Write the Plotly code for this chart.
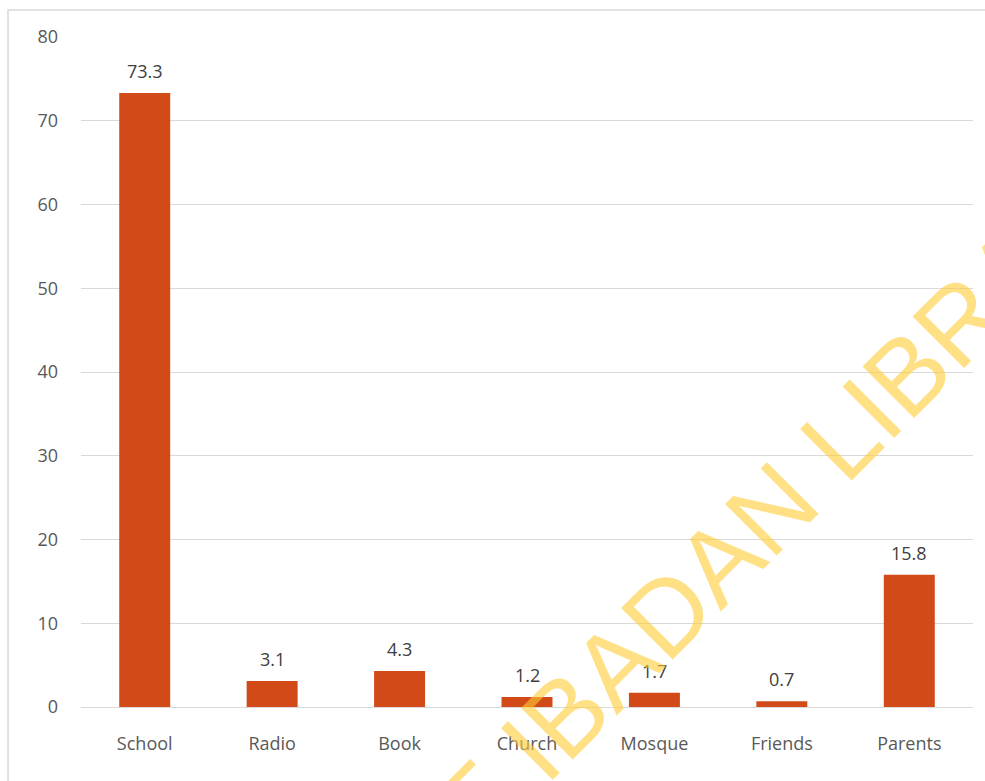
import plotly.graph_objects as go

categories = ["School", "Radio", "Book", "Church", "Mosque", "Friends", "Parents"]
values = [73.3, 3.1, 4.3, 1.2, 1.7, 0.7, 15.8]
y_ticks = [0, 10, 20, 30, 40, 50, 60, 70, 80]

BAR = "#D24A17"
FONT = "Open Sans, Liberation Sans, sans-serif"

fig = go.Figure()
fig.add_trace(go.Bar(x=categories, y=values, marker=dict(color=BAR, line=dict(width=0)),
                     hoverinfo="skip"))

for c, v in zip(categories, values):
    fig.add_annotation(x=c, y=v, text=f"{v}", showarrow=False, yshift=22,
                       font=dict(size=18, color="#404040", family=FONT))

# watermark
fig.add_annotation(xref="paper", yref="paper", x=0.5056, y=-0.0612,
                   text="UNIVERSITY OF IBADAN LIBRARY", textangle=-45, showarrow=False,
                   xanchor="center", yanchor="middle",
                   font=dict(size=106, color="rgba(255,204,51,0.6)", family="Liberation Sans, sans-serif"))

# outer chart border
fig.add_shape(type="rect", xref="paper", yref="paper", x0=-0.0818, x1=1.2, y0=-0.3, y1=1.0403,
              line=dict(color="#D9D9D9", width=1.5), fillcolor="rgba(0,0,0,0)", layer="below")

fig.update_layout(
    width=985, height=781,
    margin=dict(l=81, r=12, t=37, b=74),
    paper_bgcolor="white", plot_bgcolor="white",
    bargap=0.6, showlegend=False,
    font=dict(family=FONT, size=18, color="#595959"),
)
fig.update_xaxes(showgrid=False, showline=False, ticks="", ticklabelstandoff=24,
                 tickfont=dict(size=18, color="#595959"))
fig.update_yaxes(range=[0, 80], tickvals=y_ticks, showgrid=True, gridcolor="#D9D9D9", gridwidth=1,
                 zeroline=True, zerolinecolor="#D9D9D9", zerolinewidth=1, showline=False, ticks="",
                 ticklabelstandoff=22, tickfont=dict(size=18, color="#595959"))

fig.write_html("out.html")
